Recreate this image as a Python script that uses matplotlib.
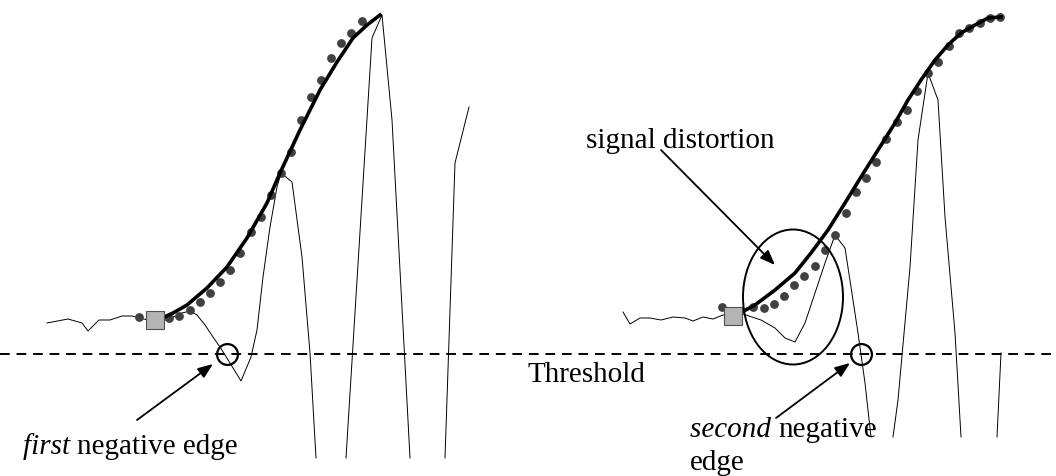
import matplotlib.pyplot as plt
import numpy as np
from matplotlib.patches import Ellipse

# canvas units = pixels of the 1056x476 picture (y grows downwards)
W, H = 1056, 476
threshold_y = 354

# left panel: measured sampled trace (thin), NaN = trace leaves the view
left_trace_x = [47, 68, 82, 88, 99, 110, 122, 132, 140, 148, 157, 163, 173, 182, 190, 197,
                205, 213, 220, 230, 241, 251, 257, 263, 270, 277, 281, 292, 302, 310, 316,
                np.nan, 346, 372, 382, 392, 410, np.nan, 445, 455, 469]
left_trace_y = [323, 319, 323, 331, 320, 320, 316, 316, 318, 320, 322, 321, 317, 313, 311, 315,
                325, 337, 347, 363, 381, 357, 330, 277, 227, 187, 173, 182, 257, 353, 458,
                np.nan, 458, 38, 15, 120, 458, np.nan, 458, 163, 107]
left_ideal_x = [162, 173, 187, 207, 227, 247, 267, 280, 300, 320, 337, 353, 367, 380]
left_ideal_y = [318, 313, 305, 288, 267, 238, 203, 173, 130, 90, 62, 38, 25, 15]
left_dots_x = [139, 169, 179, 190, 200, 210, 220, 230, 240, 251, 261, 271, 281, 291, 301,
               311, 321, 331, 341, 351, 362]
left_dots_y = [317, 318, 316, 310, 302, 293, 282, 270, 253, 232, 217, 195, 173, 152, 120,
               97, 80, 58, 43, 33, 21]

# right panel
right_trace_x = [623, 630, 640, 650, 661, 673, 685, 693, 703, 713, 723, 740, 746, 761, 775,
                 785, 795, 805, 815, 825, 835, 845, 851, 858, 865, 871,
                 np.nan, 893, 898, 910, 918, 928, 938, 945, 955, 961, np.nan, 997, 1001]
right_trace_y = [312, 324, 318, 318, 320, 317, 318, 321, 317, 319, 315, 313, 315, 320, 328,
                 338, 342, 323, 293, 263, 235, 248, 287, 333, 383, 437,
                 np.nan, 437, 400, 267, 140, 73, 100, 217, 333, 437, np.nan, 437, 353]
right_ideal_x = [740, 755, 775, 795, 811, 828, 845, 861, 878, 895, 908, 921, 935, 948, 961,
                 975, 988, 1001]
right_ideal_y = [313, 305, 290, 273, 253, 230, 203, 177, 150, 123, 100, 80, 60, 45, 33,
                 25, 18, 17]
right_dots_x = [722, 753, 764, 774, 784, 794, 804, 815, 825, 835, 846, 856, 866, 876, 886,
                897, 907, 917, 928, 938, 949, 959, 969, 980, 990, 1000]
right_dots_y = [307, 307, 308, 304, 296, 285, 276, 266, 250, 235, 213, 192, 178, 162, 139,
                122, 110, 91, 73, 62, 46, 33, 28, 23, 18, 17]

# start markers (squares) and threshold crossings (circles)
square_x = [154.5, 733]
square_y = [320, 316]
crossing_x = [227, 861]
crossing_y = [354, 354]

plt.rcParams['font.family'] = ['Liberation Serif', 'DejaVu Serif']
fig = plt.figure(figsize=(W / 100, H / 100), dpi=100)
ax = fig.add_axes([0, 0, 1, 1])
ax.set_xlim(0, W)
ax.set_ylim(H, 0)
ax.axis('off')

ax.axhline(threshold_y, color='black', lw=1.4, ls=(0, (5, 3.5)), zorder=1)

ax.plot(left_trace_x, left_trace_y, color='black', lw=0.7, zorder=2)
ax.plot(right_trace_x, right_trace_y, color='black', lw=0.7, zorder=2)
ax.plot(left_dots_x, left_dots_y, 'o', color='#404040', ms=5.3, zorder=3)
ax.plot(right_dots_x, right_dots_y, 'o', color='#404040', ms=5.3, zorder=3)
ax.plot(left_ideal_x, left_ideal_y, color='black', lw=2.6, zorder=4)
ax.plot(right_ideal_x, right_ideal_y, color='black', lw=2.6, zorder=4)
ax.plot(square_x, square_y, 's', color='#b4b4b4', mec='#505050', mew=0.8, ms=12.8, zorder=5)
ax.plot(crossing_x, crossing_y, 'o', mfc='none', mec='black', mew=1.6, ms=15, zorder=5)

# distortion ellipse
ax.add_patch(Ellipse((793, 297), 100, 135, fill=False, lw=1.4, ec='black', zorder=5))

arrow = dict(arrowstyle='-|>,head_length=0.9,head_width=0.35', color='black', lw=1.3,
             shrinkA=0, shrinkB=0)
ax.annotate('', xy=(213, 364), xytext=(137, 420), arrowprops=arrow)
ax.annotate('', xy=(850, 363), xytext=(776, 418), arrowprops=arrow)
ax.annotate('', xy=(775, 265), xytext=(661, 150), arrowprops=arrow)

fs = 21


def mixed(x, y, italic, rest):
    # italic word followed by upright words on one baseline
    t = ax.text(x, y, italic + ' ', fontsize=fs, style='italic', va='baseline', ha='left')
    fig.canvas.draw()
    bb = t.get_window_extent().transformed(ax.transData.inverted())
    ax.text(bb.x1, y, rest, fontsize=fs, va='baseline', ha='left')


mixed(23, 454, 'first', 'negative edge')
ax.text(527, 382, 'Threshold', fontsize=fs, va='baseline', ha='left')
ax.text(586, 148, 'signal distortion', fontsize=fs, va='baseline', ha='left')
mixed(690, 437, 'second', 'negative')
ax.text(690, 470, 'edge', fontsize=fs, va='baseline', ha='left')

fig.savefig('out.png', dpi=100)
